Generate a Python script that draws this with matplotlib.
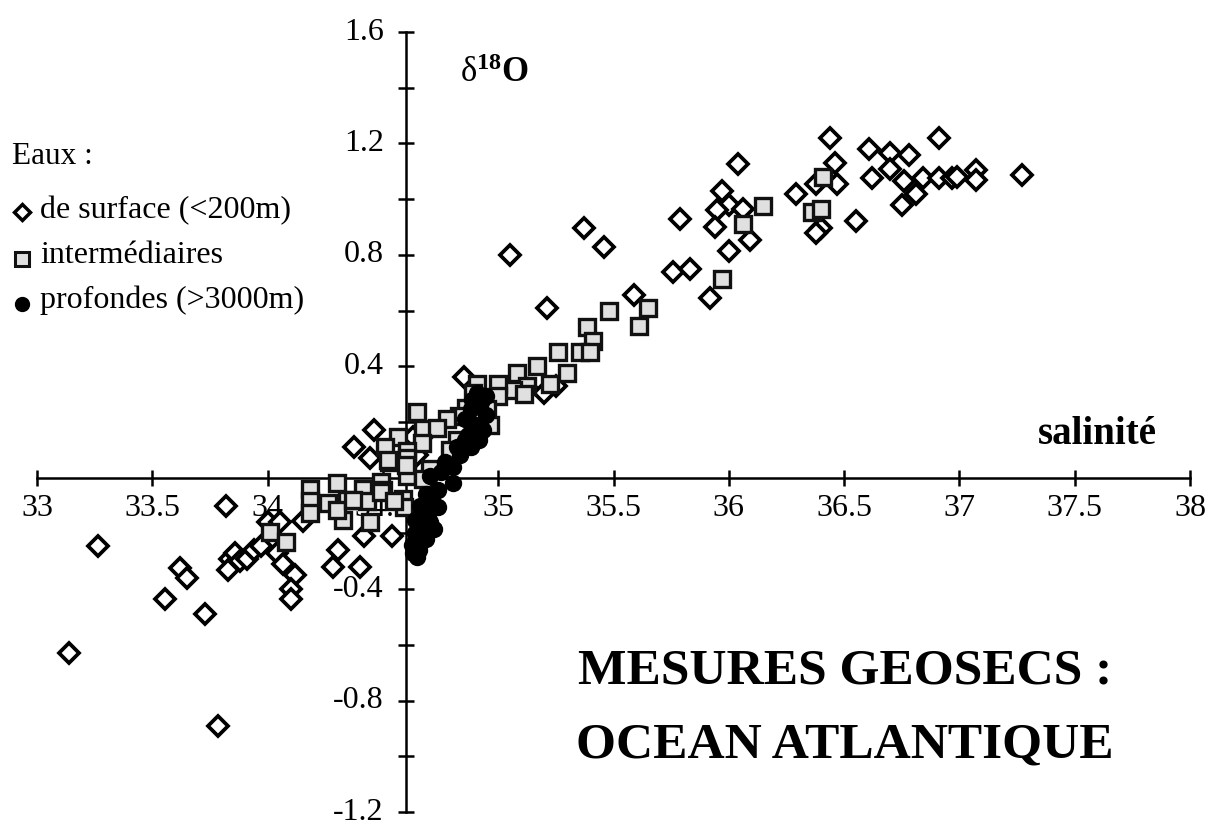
import matplotlib
matplotlib.use("Agg")
import matplotlib.pyplot as plt
from matplotlib.lines import Line2D
import numpy as np

plt.rcParams['font.family'] = ['Liberation Serif', 'DejaVu Serif']
plt.rcParams['axes.unicode_minus'] = False
plt.rcParams['mathtext.fontset'] = 'custom'
plt.rcParams['mathtext.rm'] = 'Liberation Serif'
plt.rcParams['mathtext.bf'] = 'Liberation Serif:bold'
plt.rcParams['mathtext.it'] = 'Liberation Serif:italic'

# ---- data: surface waters (<200 m) ----
surf_sal = [36.44, 36.91, 36.61, 36.70, 36.78, 36.04, 36.46, 36.70, 37.07, 37.27,
            36.62, 36.76, 36.84, 36.91, 36.97, 36.99, 37.07, 36.47, 36.38, 36.29,
            36.81, 36.75, 36.55, 36.40, 36.38, 35.97, 36.00, 35.95, 36.06, 35.94,
            36.09, 35.79, 35.37, 35.46, 35.05, 36.00, 35.76, 35.83, 35.92, 35.59,
            35.21, 34.85, 35.13, 35.20, 35.25,
            34.46, 34.375, 34.445, 34.63, 34.65,
            33.14, 33.265, 33.62, 33.65, 33.555, 33.73, 33.785, 33.82, 33.835, 33.83,
            33.86, 33.88, 33.91, 33.94, 33.97, 34.00, 34.055, 34.155, 34.04, 34.065,
            34.12, 34.10, 34.10, 34.305, 34.285, 34.40, 34.42, 34.54]
surf_d18o = [1.22, 1.22, 1.18, 1.165, 1.16, 1.125, 1.13, 1.11, 1.105, 1.085,
             1.075, 1.065, 1.075, 1.075, 1.075, 1.08, 1.07, 1.055, 1.055, 1.02,
             1.02, 0.98, 0.92, 0.895, 0.88, 1.03, 0.98, 0.96, 0.965, 0.90,
             0.855, 0.93, 0.895, 0.83, 0.80, 0.815, 0.74, 0.75, 0.645, 0.655,
             0.61, 0.36, 0.32, 0.305, 0.33,
             0.17, 0.11, 0.07, 0.145, 0.08,
             -0.63, -0.245, -0.325, -0.36, -0.435, -0.49, -0.89, -0.10, -0.29, -0.33,
             -0.27, -0.30, -0.29, -0.26, -0.245, -0.16, -0.16, -0.155, -0.27, -0.31,
             -0.35, -0.40, -0.435, -0.26, -0.32, -0.32, -0.21, -0.21]

# ---- data: intermediate waters ----
inter_sal = [36.41, 36.15, 36.06, 36.36, 36.40, 35.97, 35.65, 35.48, 35.61, 35.385,
             35.41, 35.355, 35.40, 35.26, 35.17, 35.08, 35.30, 35.225, 35.125, 35.065,
             35.00, 35.00, 34.91, 35.11, 34.89, 34.95, 34.965, 34.86, 34.83,
             34.65, 34.78, 34.675, 34.735, 34.82, 34.565, 34.67, 34.51, 34.605, 34.525,
             34.605, 34.79, 34.705, 34.605, 34.49, 34.30, 34.415, 34.50, 34.345, 34.585,
             34.43, 34.325, 34.445, 34.59, 34.675, 34.185, 34.185, 34.185, 34.26, 34.30,
             34.37, 34.01, 34.08, 34.52, 34.60, 34.49, 34.55]
inter_d18o = [1.08, 0.975, 0.91, 0.955, 0.965, 0.715, 0.61, 0.60, 0.545, 0.54,
              0.49, 0.45, 0.45, 0.45, 0.40, 0.375, 0.375, 0.335, 0.33, 0.315,
              0.335, 0.295, 0.335, 0.30, 0.305, 0.245, 0.19, 0.25, 0.22,
              0.235, 0.21, 0.175, 0.18, 0.135, 0.145, 0.125, 0.11, 0.095, 0.055,
              0.07, 0.10, 0.03, 0.005, -0.015, -0.02, -0.04, -0.045, -0.08, -0.075,
              -0.085, -0.15, -0.16, -0.105, -0.005, -0.04, -0.085, -0.125, -0.09, -0.115,
              -0.08, -0.195, -0.23, 0.065, 0.045, -0.05, -0.085]

# ---- data: deep waters (>3000 m) ----
deep_sal = [34.91, 34.93, 34.88, 34.945, 34.90, 34.935, 34.87, 34.915, 34.88, 34.82,
            34.805, 34.75, 34.805, 34.705, 34.74, 34.685, 34.74, 34.66, 34.695, 34.64,
            34.72, 34.66, 34.625, 34.65, 34.655, 34.685, 34.705, 34.715, 34.77, 34.835,
            34.855, 34.885, 34.92, 34.945, 34.855, 34.64, 34.67, 34.63]
deep_d18o = [0.305, 0.28, 0.245, 0.225, 0.19, 0.17, 0.155, 0.135, 0.11, 0.11,
             0.04, 0.02, -0.02, 0.005, -0.045, -0.06, -0.105, -0.10, -0.135, -0.15,
             -0.185, -0.205, -0.24, -0.285, -0.26, -0.22, -0.16, -0.08, 0.055, 0.08,
             0.21, 0.28, 0.26, 0.295, 0.135, -0.20, -0.17, -0.27]

x_ticks = [33, 33.5, 34, 34.5, 35, 35.5, 36, 36.5, 37, 37.5, 38]
x_ticklabels = ["33", "33.5", "34", "34.5", "35", "35.5", "36", "36.5", "37", "37.5", "38"]
y_ticks = [-1.2, -0.8, -0.4, 0.4, 0.8, 1.2, 1.6]
y_ticklabels = ["-1.2", "-0.8", "-0.4", "0.4", "0.8", "1.2", "1.6"]
y_minor = [-1.0, -0.6, -0.2, 0.2, 0.6, 1.0, 1.4]

W, H = 1209, 825
def fx(px):
    return px / W
def fy(py):
    return 1 - py / H

fig = plt.figure(figsize=(W / 100, H / 100), dpi=100)
ax = fig.add_axes([fx(37), fy(812), (1190 - 37) / W, (812 - 32) / H])
ax.set_xlim(33, 38)
ax.set_ylim(-1.2, 1.6)

ax.spines['top'].set_visible(False)
ax.spines['right'].set_visible(False)
ax.spines['left'].set_position(('data', 34.6))
ax.spines['bottom'].set_position(('data', 0))
for s in ('left', 'bottom'):
    ax.spines[s].set_linewidth(1.8)
    ax.spines[s].set_color('black')

ax.set_xticks(x_ticks)
ax.set_xticklabels(x_ticklabels)
ax.set_yticks(y_ticks)
ax.set_yticklabels(y_ticklabels)
ax.set_yticks(y_minor, minor=True)
ax.tick_params(axis='x', which='major', direction='inout', length=12, width=1.8,
               labelsize=23, pad=6)
ax.tick_params(axis='y', which='major', direction='inout', length=12, width=1.8,
               labelsize=23, pad=10)
ax.tick_params(axis='y', which='minor', direction='inout', length=12, width=1.8)
for t in ax.get_yticklabels():
    t.set_verticalalignment('center')

ax.plot(surf_sal, surf_d18o, linestyle='none', marker='D', markersize=10,
        markerfacecolor='white', markeredgecolor='black', markeredgewidth=2.7,
        zorder=3, clip_on=False)
ax.plot(inter_sal, inter_d18o, linestyle='none', marker='s', markersize=11.5,
        markerfacecolor='#e0e0e0', markeredgecolor='#111111', markeredgewidth=2.4,
        zorder=4, clip_on=False)
ax.plot(deep_sal, deep_d18o, linestyle='none', marker='o', markersize=11.5,
        markerfacecolor='black', markeredgecolor='black', markeredgewidth=1,
        zorder=5, clip_on=False)

# axis titles
fig.text(fx(460), fy(74), r'$\mathrm{\delta}^{\mathbf{18}}\mathbf{O}$', fontsize=25,
         ha='left', va='center')
fig.text(fx(1157), fy(435), 'salinité', fontsize=28, fontweight='bold',
         ha='right', va='center')

# legend
fig.text(fx(12), fy(164), 'Eaux :', fontsize=22.5, ha='left', va='baseline')
leg_labels = ['de surface (<200m)', 'intermédiaires', 'profondes (>3000m)']
leg_base = [218, 263, 308]
for lab, b in zip(leg_labels, leg_base):
    fig.text(fx(40), fy(b), lab, fontsize=23, ha='left', va='baseline')
fig.add_artist(Line2D([fx(22)], [fy(212)], marker='D', markersize=8,
                      markerfacecolor='white', markeredgecolor='black',
                      markeredgewidth=2.5, linestyle='none'))
fig.add_artist(Line2D([fx(22)], [fy(259)], marker='s', markersize=9.5,
                      markerfacecolor='#e0e0e0', markeredgecolor='#111111',
                      markeredgewidth=2.2, linestyle='none'))
fig.add_artist(Line2D([fx(22)], [fy(304)], marker='o', markersize=10,
                      markerfacecolor='black', markeredgecolor='black',
                      linestyle='none'))

# title
fig.text(fx(845), fy(672), 'MESURES GEOSECS :', fontsize=37, fontweight='bold',
         ha='center', va='center')
fig.text(fx(845), fy(746), 'OCEAN ATLANTIQUE', fontsize=37, fontweight='bold',
         ha='center', va='center')

fig.savefig('out.png', dpi=100)
